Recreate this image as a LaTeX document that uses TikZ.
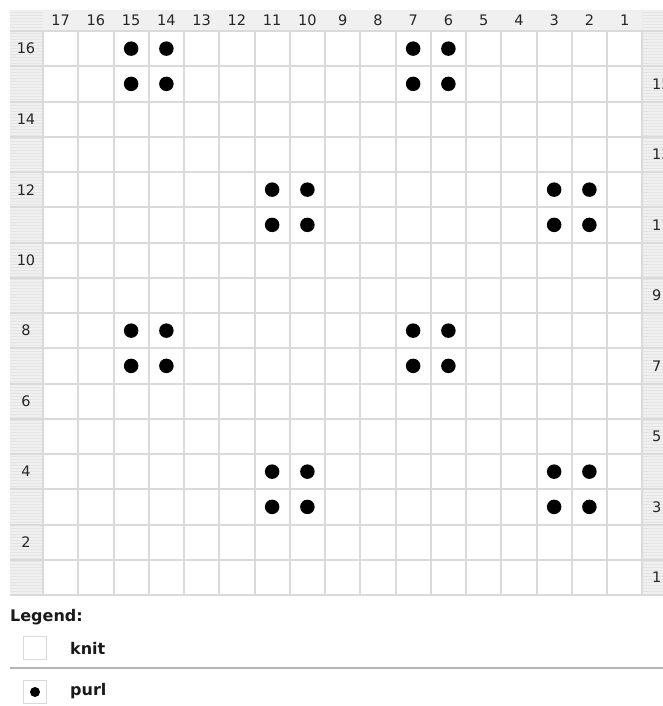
\documentclass[tikz,border=0pt]{standalone}
\usepackage{fontspec}
\setmainfont{DejaVu Sans}
\definecolor{gridc}{HTML}{DADADA}
\definecolor{hdr}{HTML}{F0F0F0}
\definecolor{stripe}{HTML}{E4E4E4}
\definecolor{sep}{HTML}{B4B4B4}
\begin{document}
\begin{tikzpicture}[x=1pt,y=-1pt,
  num/.style={font=\fontsize{14.5}{15}\selectfont, text=black!85, inner sep=0pt},
  legtext/.style={font=\bfseries\fontsize{16}{17}\selectfont, text=black!90, inner sep=0pt, anchor=west},
  purldot/.style={circle, fill=black, minimum size=14.5pt, inner sep=0pt},
  legbox/.style={draw=gridc, line width=1.5pt, minimum size=23pt, inner sep=0pt},
  gridline/.style={draw=gridc, line width=2pt}]
\useasboundingbox (0,0) rectangle (663,706);
\begin{scope}
\clip (0,0) rectangle (663,706);
% header band and side columns
\fill[hdr] (10,10) rectangle (663,31);
\fill[hdr] (10,31) rectangle (43,596);
\fill[hdr] (642,31) rectangle (670,596);
\foreach \yy in {12,15,...,594}{
  \draw[stripe, line width=0.8pt] (10,\yy) -- (43,\yy);
  \draw[stripe, line width=0.8pt] (642,\yy) -- (670,\yy);
}
% grid
\foreach \i in {0,...,17}{
  \pgfmathsetmacro\xx{round(43+\i*35.25)}
  \draw[gridline] (\xx,31) -- (\xx,596);
}
\foreach \j in {0,...,16}{
  \pgfmathsetmacro\yy{round(31+\j*35.25)}
  \draw[gridline] (10,\yy) -- (670,\yy);
}
% column numbers
\foreach \c in {1,...,17}{
  \pgfmathsetmacro\xx{43+(17.5-\c)*35.25}
  \node[num] (col\c) at (\xx,20) {\c};
}
% row numbers
\foreach \r in {2,4,...,16}{
  \pgfmathsetmacro\yy{31+(16.5-\r)*35.25}
  \node[num] (row\r) at (26,\yy) {\r};
}
\foreach \r in {1,3,...,15}{
  \pgfmathsetmacro\yy{31+(16.5-\r)*35.25}
  \node[num, anchor=west] (row\r) at (652,\yy) {\r};
}
% purl stitches
\foreach \r/\c in {16/15,16/14,16/7,16/6,15/15,15/14,15/7,15/6,
                   12/11,12/10,12/3,12/2,11/11,11/10,11/3,11/2,
                   8/15,8/14,8/7,8/6,7/15,7/14,7/7,7/6,
                   4/11,4/10,4/3,4/2,3/11,3/10,3/3,3/2}{
  \pgfmathsetmacro\xx{43+(17.5-\c)*35.25}
  \pgfmathsetmacro\yy{31+(16.5-\r)*35.25}
  \node[purldot] (p\r-\c) at (\xx,\yy) {};
}
% legend
\node[legtext] (legend) at (10,617) {Legend:};
\node[legbox] (knitbox) at (35,648) {};
\node[legtext] (knit) at (70,648) {knit};
\draw[sep, line width=2pt] (10,668) -- (670,668);
\node[legbox] (purlbox) at (35,692) {};
\node[circle, fill=black, minimum size=10pt, inner sep=0pt] (purldot) at (purlbox.center) {};
\node[legtext] (purl) at (70,691) {purl};
\end{scope}
\end{tikzpicture}
\end{document}
